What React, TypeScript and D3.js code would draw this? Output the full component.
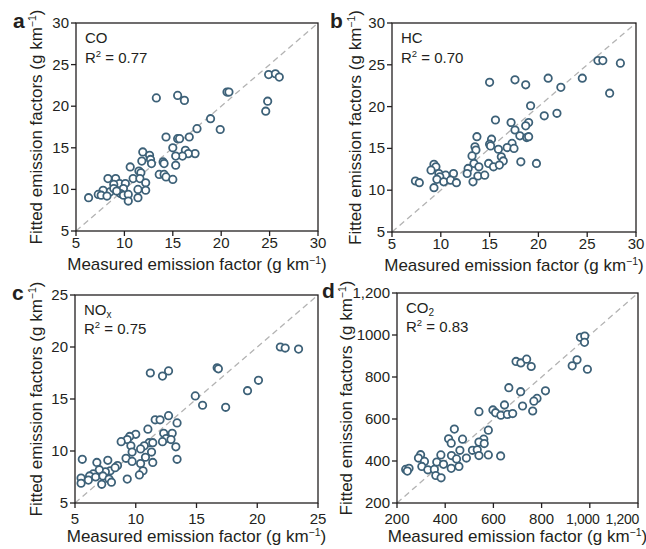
import React from 'react';
import { scaleLinear } from 'd3';

const coMeasured = [24.9, 25.6, 26.0, 24.8, 24.6, 20.6, 20.8, 13.3, 15.5, 16.2, 18.9, 19.9, 17.5, 14.3, 15.5, 15.7, 16.7, 15.0, 16.3, 17.3, 16.6, 16.0, 15.3, 15.3, 11.9, 12.6, 11.8, 12.7, 12.8, 14.0, 14.1, 10.6, 11.5, 11.7, 13.6, 14.1, 14.3, 15.0, 10.9, 11.6, 8.3, 9.1, 12.2, 9.5, 10.1, 8.9, 11.4, 12.2, 8.5, 7.8, 9.9, 7.3, 7.6, 8.2, 9.6, 9.9, 10.4, 11.4, 10.4, 6.3, 8.9, 9.2];
const coFitted = [23.8, 23.9, 23.5, 20.6, 19.4, 21.7, 21.7, 21.0, 21.3, 20.7, 18.5, 17.2, 17.3, 16.3, 16.1, 16.1, 16.3, 15.0, 14.7, 14.3, 14.3, 14.0, 14.0, 12.9, 14.5, 14.1, 13.4, 13.6, 13.1, 13.3, 13.1, 12.7, 12.2, 12.0, 11.8, 11.8, 11.5, 11.2, 11.3, 11.3, 11.3, 11.3, 10.8, 10.7, 10.7, 10.6, 10.0, 9.9, 9.7, 9.9, 10.1, 9.4, 9.3, 9.2, 9.5, 9.3, 9.4, 9.0, 8.6, 9.0, 10.1, 9.8];

const hcMeasured = [26.1, 26.6, 28.4, 27.3, 24.5, 21.0, 22.3, 15.0, 17.6, 18.7, 19.2, 20.6, 21.9, 15.6, 17.2, 19.0, 18.7, 17.6, 13.7, 15.2, 18.1, 18.8, 19.0, 17.3, 15.0, 15.1, 13.5, 13.6, 15.9, 16.8, 17.5, 13.2, 16.2, 16.4, 13.4, 13.9, 14.9, 15.4, 16.0, 18.2, 19.8, 12.8, 12.7, 13.8, 14.5, 13.3, 9.3, 9.5, 9.0, 9.8, 10.5, 9.9, 11.3, 9.6, 10.3, 11.0, 11.6, 9.3, 7.4, 7.8];
const hcFitted = [25.5, 25.5, 25.2, 21.6, 23.4, 23.4, 22.3, 22.9, 23.2, 22.6, 20.1, 18.9, 19.2, 18.4, 18.1, 18.1, 17.7, 17.2, 16.4, 16.1, 16.5, 16.3, 16.4, 15.6, 15.5, 15.3, 15.2, 14.8, 14.9, 15.1, 15.0, 14.1, 14.0, 13.5, 13.2, 12.8, 13.2, 12.8, 13.0, 13.4, 13.2, 12.6, 12.0, 11.7, 11.8, 11.0, 13.1, 12.8, 12.4, 12.0, 11.8, 11.6, 12.0, 11.3, 11.0, 11.2, 10.9, 10.3, 11.1, 10.9];

const noxMeasured = [21.9, 22.3, 23.4, 16.7, 16.8, 20.1, 19.2, 14.9, 15.5, 17.4, 11.2, 12.7, 12.2, 12.7, 11.6, 12.0, 13.4, 11.0, 10.0, 9.5, 9.3, 8.8, 9.6, 9.7, 12.3, 13.0, 12.5, 12.9, 12.2, 11.1, 11.4, 10.7, 10.4, 13.3, 11.3, 9.2, 9.7, 10.4, 10.8, 11.4, 13.4, 10.6, 10.3, 9.3, 5.6, 6.8, 7.7, 8.5, 7.9, 7.5, 7.0, 6.5, 6.2, 6.7, 7.3, 7.8, 8.0, 7.2, 5.5, 5.5, 6.1, 8.3];
const noxFitted = [20.0, 19.9, 19.8, 18.0, 17.9, 16.8, 15.8, 15.3, 14.4, 14.2, 17.5, 17.7, 17.2, 13.4, 13.0, 13.0, 12.7, 12.1, 11.6, 11.4, 11.1, 10.9, 10.5, 9.9, 11.7, 11.7, 11.2, 11.1, 10.9, 10.8, 10.8, 10.5, 10.2, 10.4, 9.9, 9.3, 9.0, 8.8, 9.4, 8.9, 9.2, 8.1, 7.7, 7.3, 9.2, 8.9, 9.1, 8.6, 8.1, 8.0, 8.2, 7.8, 7.6, 7.5, 7.6, 7.3, 7.0, 6.8, 7.4, 6.9, 7.2, 8.4];

const co2Measured = [961, 979, 978, 947, 927, 990, 694, 714, 738, 757, 664, 713, 816, 781, 768, 763, 721, 646, 540, 598, 609, 631, 658, 680, 579, 560, 540, 562, 438, 414, 425, 472, 513, 461, 533, 382, 426, 447, 488, 540, 579, 630, 298, 289, 314, 365, 393, 303, 328, 355, 425, 457, 361, 383, 236, 250, 243];
const co2Fitted = [989, 995, 965, 882, 853, 837, 874, 867, 885, 850, 749, 730, 734, 698, 685, 638, 662, 667, 635, 643, 630, 618, 622, 626, 547, 504, 490, 483, 552, 506, 485, 504, 451, 451, 453, 429, 426, 410, 414, 426, 429, 424, 430, 414, 398, 395, 384, 374, 358, 360, 365, 374, 331, 320, 360, 365, 352];

const ticks5to30 = [5, 10, 15, 20, 25, 30];
const ticks5to25 = [5, 10, 15, 20, 25];
const ticksCo2 = [200, 400, 600, 800, 1000, 1200];
const co2XLabels = ['200', '400', '600', '800', '1,000', '1,200'];
const co2YLabels = ['200', '400', '600', '800', '1000', '1,200'];

const FONT = '"Liberation Sans", Arial, Helvetica, sans-serif';
const POINT = '#3d6178';

type Panel = {
  letter: string;
  name: React.ReactNode;
  r2: string;
  xs: number[];
  ys: number[];
  domain: [number, number];
  ticks: number[];
  xLabels: string[];
  yLabels: string[];
  box: { left: number; right: number; top: number; bottom: number };
  titleX: number;
  letterX: number;
  nameDy: number;
};

const unit = (
  <>
    (g km<tspan fontSize="10.5" dy="-6">−1</tspan><tspan dy="6">)</tspan>
  </>
);

const panels: Panel[] = [
  {
    letter: 'a', name: 'CO', r2: '0.77', xs: coMeasured, ys: coFitted, domain: [5, 30],
    ticks: ticks5to30, xLabels: ticks5to30.map(String), yLabels: ticks5to30.map(String),
    box: { left: 76, right: 318, top: 23, bottom: 231 }, titleX: 42, letterX: 13, nameDy: 20,
  },
  {
    letter: 'b', name: 'HC', r2: '0.70', xs: hcMeasured, ys: hcFitted, domain: [5, 30],
    ticks: ticks5to30, xLabels: ticks5to30.map(String), yLabels: ticks5to30.map(String),
    box: { left: 392, right: 636, top: 23, bottom: 232 }, titleX: 361, letterX: 330, nameDy: 20,
  },
  {
    letter: 'c', name: <>NO<tspan fontSize="10" dy="3">x</tspan></>, r2: '0.75', xs: noxMeasured, ys: noxFitted,
    domain: [5, 25], ticks: ticks5to25, xLabels: ticks5to25.map(String), yLabels: ticks5to25.map(String),
    box: { left: 75, right: 318, top: 295, bottom: 503 }, titleX: 42, letterX: 12, nameDy: 19,
  },
  {
    letter: 'd', name: <>CO<tspan fontSize="10" dy="3">2</tspan></>, r2: '0.83', xs: co2Measured, ys: co2Fitted,
    domain: [200, 1200], ticks: ticksCo2, xLabels: co2XLabels, yLabels: co2YLabels,
    box: { left: 397, right: 638, top: 293, bottom: 503 }, titleX: 352, letterX: 322, nameDy: 19,
  },
];

function Scatter({ p }: { p: Panel }) {
  const { left, right, top, bottom } = p.box;
  const x = scaleLinear().domain(p.domain).range([left, right]);
  const y = scaleLinear().domain(p.domain).range([bottom, top]);
  const midY = (top + bottom) / 2;
  const midX = (left + right) / 2;
  const isTop = top < 100;
  const last = p.ticks.length - 1;
  return (
    <g>
      <text x={p.letterX} y={top + 5} fontSize="21" fontWeight="bold">{p.letter}</text>
      <line x1={x(p.domain[0])} y1={y(p.domain[0])} x2={x(p.domain[1])} y2={y(p.domain[1])}
        stroke="#b3b3b3" strokeWidth="1.3" strokeDasharray="6,4" />
      {p.xs.map((v, i) => (
        <circle key={i} cx={x(v)} cy={y(p.ys[i])} r={3.7} fill="#fff" stroke={POINT} strokeWidth="1.8" />
      ))}
      <rect x={left} y={top} width={right - left} height={bottom - top} fill="none" stroke="#231f20" strokeWidth="1.3" />
      {p.ticks.map((t, i) => {
        // long comma labels at the right end are nudged left so they fit
        const wide = p.xLabels[i].length > 4;
        const isLast = wide && i === last;
        const lx = isLast ? x(t) + 1 : wide ? x(t) - 7 : x(t);
        return (
          <g key={'x' + t}>
            <line x1={x(t)} x2={x(t)} y1={bottom} y2={bottom + 5} stroke="#231f20" strokeWidth="1.3" />
            <text x={lx} y={bottom + (isTop ? 17 : 21)} textAnchor={isLast ? 'end' : 'middle'}
              fontSize={wide ? 14 : 15} letterSpacing={wide ? -0.3 : 0}>{p.xLabels[i]}</text>
          </g>
        );
      })}
      {p.ticks.map((t, i) => (
        <g key={'y' + t}>
          <line x1={left - 5} x2={left} y1={y(t)} y2={y(t)} stroke="#231f20" strokeWidth="1.3" />
          <text x={left - 7} y={y(t) + 5} textAnchor="end" fontSize="15">{p.yLabels[i]}</text>
        </g>
      ))}
      <text x={left + 9} y={top + 20} fontSize="15">{p.name}</text>
      <text x={left + 9} y={top + 20 + p.nameDy} fontSize="15">
        R<tspan fontSize="9.5" dy="-6">2</tspan><tspan dy="6"> = {p.r2}</tspan>
      </text>
      <text x={midX} y={bottom + 39} textAnchor="middle" fontSize="17">
        Measured emission factor {unit}
      </text>
      <text transform={`translate(${p.titleX},${midY}) rotate(-90)`} textAnchor="middle" fontSize="17">
        Fitted emission factors {unit}
      </text>
    </g>
  );
}

export default function App() {
  return (
    <svg width={646} height={549} style={{ position: 'absolute', left: 0, top: 0, background: '#fff' }}
      fontFamily={FONT} fill="#231f20">
      {panels.map(p => <Scatter key={p.letter} p={p} />)}
    </svg>
  );
}
